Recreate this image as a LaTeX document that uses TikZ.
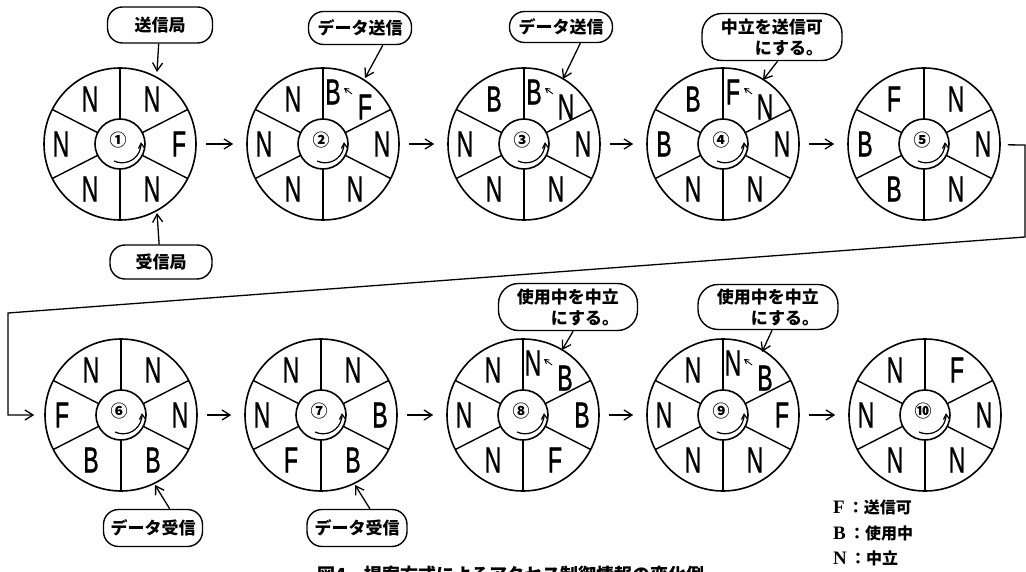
\documentclass[tikz,border=0pt]{standalone}
\usepackage{fontspec}
\usepackage{graphicx}
\usetikzlibrary{arrows.meta}
\newfontfamily\cjk{Noto Sans CJK JP}
\newfontfamily\lat{Liberation Sans}[FakeBold=1.2]
\newfontfamily\lser{Liberation Serif}
\newcommand\Lt[1]{\scalebox{0.64}[1]{#1}}
\tikzset{
  ring/.style={draw, circle, line width=1.6pt, inner sep=0pt},
  spoke/.style={line width=1.4pt},
  letter/.style={font=\lat\fontsize{36}{36}\selectfont, inner sep=0pt},
  num/.style={font=\cjk\bfseries\fontsize{17}{17}\selectfont, inner sep=0pt},
  arr/.style={line width=1.3pt, -{Straight Barb[length=8pt,width=10pt]}},
  turn/.style={line width=1.2pt, -{Straight Barb[length=5pt,width=6pt]}},
  tiny/.style={line width=0.9pt, -{Straight Barb[length=4pt,width=5pt]}},
  callout/.style={draw, line width=1.4pt, rounded corners=15pt, inner sep=0pt,
    font=\cjk\bfseries\fontsize{17}{21}\selectfont, align=left},
  legend/.style={anchor=west, inner sep=0pt, font=\fontsize{16}{16}\selectfont},
  pics/wheel/.style n args={7}{code={
    \node[ring, minimum size=152pt] (-o) at (0,0) {};
    \node[ring, minimum size=50pt] (-i) at (0,0) {};
    \foreach \a in {-27,27,153,207,90,270} \draw[spoke] (\a:25) -- (\a:76);
    \node[num] (-n) at (-2,-4) {#1};
    \draw[turn] (-6,17) arc[start angle=115, end angle=-5, radius=19];
    \node[letter] (-tl) at (-30,-45) {\Lt{#2}};
    \node[letter] (-tr) at (32,-45) {\Lt{#3}};
    \node[letter] (-l) at (-59,0) {\Lt{#4}};
    \node[letter] (-r) at (59,0) {\Lt{#5}};
    \node[letter] (-bl) at (-30,45) {\Lt{#6}};
    \node[letter] (-br) at (32,45) {\Lt{#7}};
  }},
  pics/pair/.style 2 args={code={
    \node[letter] (-a) at (10,-52) {\Lt{#1}};
    \node[letter] (-b) at (42,-37) {\Lt{#2}};
    \coordinate (-s) at (29,-50);
    \coordinate (-e) at (21,-56);
    \draw[tiny] (-s) -- (-e);
  }}
}
\begin{document}
\begin{tikzpicture}[x=1pt,y=-1pt]
\useasboundingbox (0,0) rectangle (1026,572);
\clip (0,0) rectangle (1026,572);
% row 1
\pic (c1) at (120,144) {wheel={①}{N}{N}{N}{F}{N}{N}};
\pic (c2) at (323,144) {wheel={②}{N}{}{N}{N}{N}{N}};
\pic (c2p) at (323,144) {pair={B}{F}};
\pic (c3) at (524,144) {wheel={③}{B}{}{N}{N}{N}{N}};
\pic (c3p) at (524,144) {pair={B}{N}};
\pic (c4) at (723,144) {wheel={④}{B}{}{B}{N}{N}{N}};
\pic (c4p) at (723,144) {pair={F}{N}};
\pic (c5) at (924,144) {wheel={⑤}{F}{N}{B}{N}{B}{N}};
% row 2
\pic (c6) at (121,415) {wheel={⑥}{N}{N}{F}{N}{B}{B}};
\pic (c7) at (321,415) {wheel={⑦}{N}{N}{N}{B}{F}{B}};
\pic (c8) at (523,415) {wheel={⑧}{N}{}{N}{B}{N}{F}};
\pic (c8p) at (523,415) {pair={N}{B}};
\pic (c9) at (723,415) {wheel={⑨}{N}{}{N}{F}{N}{N}};
\pic (c9p) at (723,415) {pair={N}{B}};
\pic (c10) at (925,415) {wheel={⑩}{N}{F}{N}{N}{N}{N}};
% connectors
\foreach \p/\q in {c1/c2,c2/c3,c3/c4,c4/c5,c6/c7,c7/c8,c8/c9,c9/c10}
  \draw[arr, shorten <=9pt, shorten >=13pt] (\p-o) -- (\q-o);
\coordinate (r1) at (1025,145);
\coordinate (r2) at (1025,237);
\coordinate (r3) at (8,313);
\coordinate (r4) at (8,415);
\draw[arr, shorten <=7pt, shorten >=10pt] (c5-o) -- (r1) -- (r2) -- (r3) -- (r4) -- (c6-o);
% callouts
\node[callout, minimum width=105pt, minimum height=36pt] (k1) at (160,25) {送信局};
\node[callout, minimum width=102pt, minimum height=34pt] (k1b) at (161,262) {受信局};
\node[callout, minimum width=103pt, minimum height=33pt] (k2) at (360,28) {データ送信};
\node[callout, minimum width=103pt, minimum height=31pt] (k3) at (561,27) {データ送信};
\node[callout, minimum width=140pt, minimum height=47pt, rounded corners=20pt] (k4) at (772,37) {中立を送信可\\\hspace*{2em}にする。};
\node[callout, minimum width=99pt, minimum height=37pt] (k6) at (153,528) {データ受信};
\node[callout, minimum width=100pt, minimum height=37pt] (k7) at (357,528) {データ受信};
\node[callout, minimum width=139pt, minimum height=47pt, rounded corners=20pt] (k8) at (568,307) {使用中を中立\\\hspace*{2em}にする。};
\node[callout, minimum width=140pt, minimum height=45pt, rounded corners=20pt] (k9) at (768,307) {使用中を中立\\\hspace*{2em}にする。};
\coordinate (t1) at (157,72);
\coordinate (t1b) at (157,213);
\coordinate (t2) at (365,78);
\coordinate (t3) at (563,79);
\coordinate (t4) at (763,80);
\coordinate (t6) at (155,485);
\coordinate (t7) at (355,485);
\coordinate (t8) at (562,350);
\coordinate (t9) at (762,352);
\draw[arr] (k1.-94) -- (t1);
\draw[arr] (k1b.96) -- (t1b);
\draw[arr] (k2.-37) -- (t2);
\draw[arr] (k3.-40) -- (t3);
\draw[arr] (k4.-77) -- (t4);
\draw[arr] (k6.49) -- (t6);
\draw[arr] (k7.56) -- (t7);
\draw[arr] (k8.-78) -- (t8);
\draw[arr] (k9.-80) -- (t9);
% legend
\node[legend] (lgF) at (833,507) {\lser\bfseries\fontsize{19}{19}\selectfont F\,\cjk\fontsize{16}{16}\selectfont ：送信可};
\node[legend] (lgB) at (833,533) {\lser\bfseries\fontsize{19}{19}\selectfont B\,\cjk\fontsize{16}{16}\selectfont ：使用中};
\node[legend] (lgN) at (833,558) {\lser\bfseries\fontsize{19}{19}\selectfont N\,\cjk\fontsize{16}{16}\selectfont ：中立};
% caption
\node[inner sep=0pt, font=\cjk\bfseries\fontsize{18}{18}\selectfont] (cap) at (511,575) {図4．提案方式によるアクセス制御情報の変化例};
\end{tikzpicture}
\end{document}
